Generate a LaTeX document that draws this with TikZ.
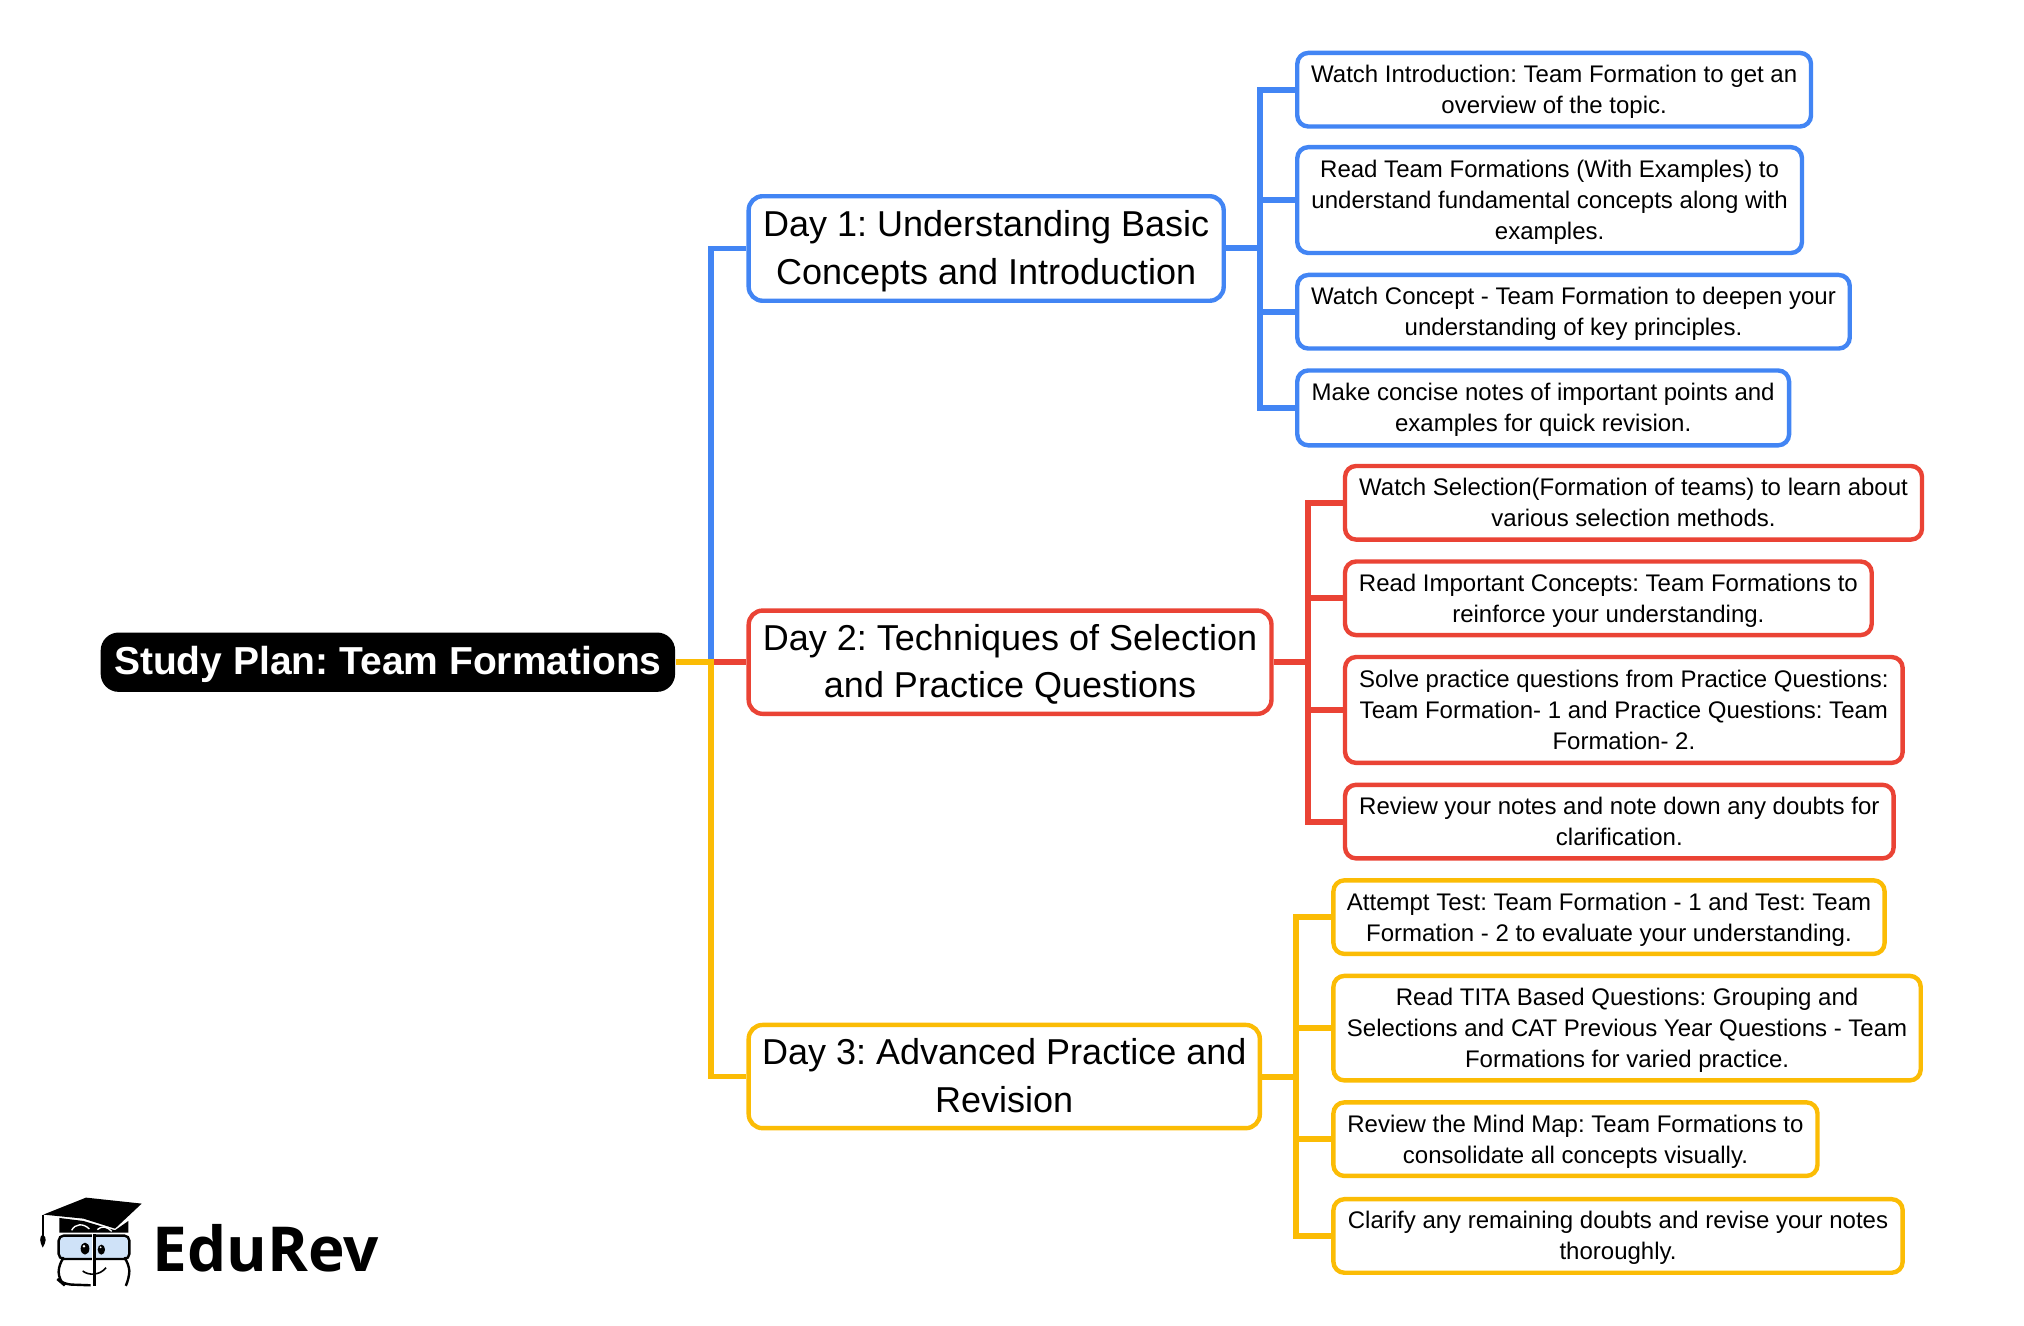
\documentclass[tikz,border=0pt]{standalone}
\usepackage{fontspec}
\setmainfont{Liberation Sans}
\newfontfamily\logofont{Open Sans}
\usetikzlibrary{calc}
\definecolor{cblue}{HTML}{4285F4}
\definecolor{cred}{HTML}{EA4335}
\definecolor{cyellow}{HTML}{FBBC05}
\definecolor{glass}{HTML}{CFE2F8}
\newcommand{\boxnode}[7]{% style,name,x1,y1,x2,y2,text
  \pgfmathsetmacro{\bw}{(#5-#3)*0.6454}\pgfmathsetmacro{\bh}{(#6-#4)*0.6454}
  \node[#1,minimum width=\bw pt,minimum height=\bh pt] (#2) at ({(#3+#5)/2},{(#4+#6)/2}) {\rule{0pt}{\tH}#7\rule[-\tD]{0pt}{\tD}};}
\tikzset{
  basebox/.style={rectangle,draw,fill=white,align=center,inner sep=0pt,line width=2.2pt,text=black},
  leafbox/.style={basebox,rounded corners=5.5pt,font=\fontsize{12}{15.5}\selectfont\frenchspacing\def\tH{11pt}\def\tD{2.6pt}},
  daybox/.style={basebox,rounded corners=7pt,font=\fontsize{18}{23.6}\selectfont\frenchspacing\def\tH{16pt}\def\tD{4pt}},
  rootbox/.style={rectangle,fill=black,text=white,align=center,inner sep=0pt,rounded corners=9pt,font=\fontsize{19.5}{24}\selectfont\bfseries\frenchspacing\def\tH{17pt}\def\tD{4.2pt}},
  bus/.style={line width=3pt,line join=miter,line cap=butt},
  mainbus/.style={line width=2.8pt,line join=miter,line cap=butt},
}
\begin{document}
\begin{tikzpicture}[x=0.6454pt,y=-0.6454pt]
\useasboundingbox (0,0) rectangle (1568,1026.5);
\boxnode{rootbox}{root}{78}{490}{523}{536}{Study Plan: Team Formations}
\boxnode{daybox,draw=cblue}{d1}{580}{152}{948}{233}{Day 1: Understanding Basic\\Concepts and Introduction}
\boxnode{daybox,draw=cred}{d2}{580}{473}{985}{553}{Day 2: Techniques of Selection\\and Practice Questions}
\boxnode{daybox,draw=cyellow}{d3}{580}{794}{976}{874}{Day 3: Advanced Practice and\\Revision}
\boxnode{leafbox,draw=cblue}{a1}{1005}{41}{1403}{98}{Watch Introduction: Team Formation to get an\\overview of the topic.}
\boxnode{leafbox,draw=cblue}{a2}{1005}{114}{1396}{196}{Read Team Formations (With Examples) to\\understand fundamental concepts along with\\examples.}
\boxnode{leafbox,draw=cblue}{a3}{1005}{213}{1433}{270}{Watch Concept - Team Formation to deepen your\\understanding of key principles.}
\boxnode{leafbox,draw=cblue}{a4}{1005}{287}{1386}{345}{Make concise notes of important points and\\examples for quick revision.}
\boxnode{leafbox,draw=cred}{b1}{1042}{361}{1489}{418}{Watch Selection(Formation of teams) to learn about\\various selection methods.}
\boxnode{leafbox,draw=cred}{b2}{1042}{435}{1450}{492}{Read Important Concepts: Team Formations to\\reinforce your understanding.}
\boxnode{leafbox,draw=cred}{b3}{1042}{509}{1474}{591}{Solve practice questions from Practice Questions:\\Team Formation- 1 and Practice Questions: Team\\Formation- 2.}
\boxnode{leafbox,draw=cred}{b4}{1042}{608}{1467}{665}{Review your notes and note down any doubts for\\clarification.}
\boxnode{leafbox,draw=cyellow}{c1}{1033}{682}{1460}{739}{Attempt Test: Team Formation - 1 and Test: Team\\Formation - 2 to evaluate your understanding.}
\boxnode{leafbox,draw=cyellow}{c2}{1033}{756}{1488}{837}{Read TITA Based Questions: Grouping and\\Selections and CAT Previous Year Questions - Team\\Formations for varied practice.}
\boxnode{leafbox,draw=cyellow}{c3}{1033}{854}{1408}{911}{Review the Mind Map: Team Formations to\\consolidate all concepts visually.}
\boxnode{leafbox,draw=cyellow}{c4}{1033}{929}{1474}{986}{Clarify any remaining doubts and revise your notes\\thoroughly.}
\coordinate (mainjoin) at (551,513);
\coordinate (busa) at (976,192);
\coordinate (busb) at (1013,513);
\coordinate (busc) at (1004,834);
% main
\draw[mainbus,cblue] (mainjoin) -- (mainjoin |- d1.west) -- (d1.west);
\draw[mainbus,cred] (mainjoin) -- (d2.west);
\draw[mainbus,cyellow] (root.east) -- (mainjoin |- root.east) -- (mainjoin |- d3.west) -- (d3.west);
% day 1
\draw[bus,cblue] (d1.east) -- (busa |- d1.east);
\draw[bus,cblue] (a1.west) -- (busa |- a1.west) -- (busa |- a4.west) -- (a4.west);
\draw[bus,cblue] (busa |- a2.west) -- (a2.west);
\draw[bus,cblue] (busa |- a3.west) -- (a3.west);
% day 2
\draw[bus,cred] (d2.east) -- (busb |- d2.east);
\draw[bus,cred] (b1.west) -- (busb |- b1.west) -- (busb |- b4.west) -- (b4.west);
\draw[bus,cred] (busb |- b2.west) -- (b2.west);
\draw[bus,cred] (busb |- b3.west) -- (b3.west);
% day 3
\draw[bus,cyellow] (d3.east) -- (busc |- d3.east);
\draw[bus,cyellow] (c1.west) -- (busc |- c1.west) -- (busc |- c4.west) -- (c4.west);
\draw[bus,cyellow] (busc |- c2.west) -- (c2.west);
\draw[bus,cyellow] (busc |- c3.west) -- (c3.west);
% logo (zoomed crop units: 1 unit = 1/3 reference pixel)
\begin{scope}[x=0.1667pt,y=-0.1667pt,shift={(0,3450)}]
\fill (130,193) -- (258,142) -- (425,160) -- (345,235) -- (250,205) -- cycle;
\fill (178,203) -- (178,247) -- (385,247) -- (385,212) -- (345,240) -- (250,212) -- cycle;
\draw[line width=0.9pt] (128,193) -- (128,258);
\fill (128,252) .. controls (116,262) and (120,275) .. (128,292) .. controls (138,275) and (142,262) .. (128,252) -- cycle;
\draw[white,line width=0.7pt] (215,240) .. controls (225,220) and (250,218) .. (268,236);
\draw[white,line width=0.7pt] (292,238) .. controls (305,226) and (320,228) .. (335,243);
\draw[fill=glass,line width=1.2pt,rounded corners=2.5pt] (176,256) rectangle (388,326);
\draw[line width=1.2pt,rounded corners=4pt] (272,405) -- (190,402) -- (176,390) -- (176,340) -- (186,328);
\draw[line width=1.2pt,rounded corners=4pt] (378,328) -- (388,340) -- (388,385) -- (378,405);
\draw[white,line width=0.8pt] (277,250) -- (277,410);
\fill (279,250) rectangle (288,408);
\fill (255,295) ellipse [x radius=13,y radius=18];
\fill (304,298) ellipse [x radius=11,y radius=15];
\fill[white] (252,288) circle [radius=4];
\fill[white] (302,291) circle [radius=3];
\draw[line width=0.8pt] (248,362) .. controls (265,376) and (300,376) .. (318,352);
\end{scope}
\node[font=\logofont\bfseries\fontsize{31}{36}\selectfont,anchor=base west,inner sep=0pt] (logo) at (118,985) {EduRev};
\end{tikzpicture}
\end{document}
